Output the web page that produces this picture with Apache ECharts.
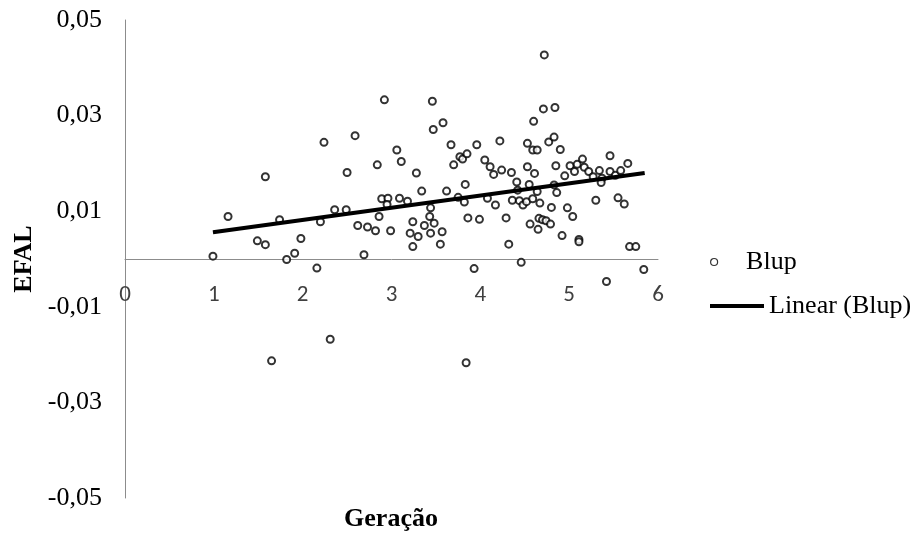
<!DOCTYPE html>
<html>
<head>
<meta charset="utf-8">
<title>EFAL x Geração</title>
<script src="https://cdn.jsdelivr.net/npm/echarts@6/dist/echarts.min.js"></script>
<style>
  html, body { margin: 0; padding: 0; background: #fff; }
  #myChart { width: 911px; height: 533px; }
</style>
</head>
<body>
<div id="myChart"></div>
<script>
// Blup por geração (x = geração, y = EFAL)
var geracao = [
  0.99, 1.16, 1.58, 1.74, 1.49, 1.58, 1.82,
  2.92, 3.46, 2.24, 2.59, 3.58, 3.47, 3.67, 3.06, 3.11, 2.84, 2.50, 3.28, 3.34,
  3.62, 3.70, 2.89, 2.96, 2.95, 3.09, 3.18, 2.36, 2.49, 3.44, 3.43, 2.86, 2.20,
  2.62, 2.73, 2.82, 2.99, 3.24, 3.37, 3.48, 3.21, 3.30, 3.44, 3.57, 3.55, 3.24,
  1.98, 1.91, 2.69, 2.16,
  4.72, 4.71, 4.84, 4.60, 4.22, 3.96, 4.53, 4.77, 4.83, 4.59, 4.64, 4.90, 3.77,
  3.80, 3.85, 4.05, 4.11, 4.15, 4.24, 4.35, 4.53, 4.61, 4.41, 4.55, 4.85, 4.83,
  4.86, 4.95, 5.01, 5.06, 5.09, 5.15, 5.17, 5.22, 5.27, 5.34, 5.37, 5.36, 5.46,
  5.46, 3.75, 3.83, 3.82, 4.08, 4.17, 4.36, 4.42, 4.44, 4.48, 4.52, 4.59, 4.64,
  4.67, 4.80, 4.98, 5.04, 5.30, 3.86, 3.99, 4.29, 4.56, 4.66, 4.70, 4.74, 4.79,
  4.65, 4.92, 5.11, 5.11, 4.32, 3.93, 4.46, 5.42,
  5.68, 5.75, 5.84, 2.31, 1.65, 3.84,
  5.52, 5.58, 5.55, 5.62, 5.66
];
var blup = [
  0.0006, 0.0089, 0.0172, 0.0082, 0.0038, 0.0030, -0.0001,
  0.0333, 0.0330, 0.0244, 0.0258, 0.0285, 0.0271, 0.0239, 0.0228, 0.0204, 0.0197, 0.0181, 0.0180, 0.0142,
  0.0142, 0.0197, 0.0126, 0.0127, 0.0114, 0.0127, 0.0121, 0.0103, 0.0103, 0.0107, 0.0089, 0.0089, 0.0078,
  0.0070, 0.0067, 0.0059, 0.0059, 0.0078, 0.0070, 0.0075, 0.0054, 0.0047, 0.0054, 0.0057, 0.0031, 0.0026,
  0.0043, 0.0012, 0.0009, -0.0019,
  0.0427, 0.0314, 0.0317, 0.0288, 0.0247, 0.0239, 0.0242, 0.0245, 0.0255, 0.0228, 0.0228, 0.0229, 0.0214,
  0.0209, 0.0220, 0.0207, 0.0193, 0.0177, 0.0186, 0.0181, 0.0193, 0.0179, 0.0161, 0.0156, 0.0195, 0.0155,
  0.0139, 0.0174, 0.0195, 0.0183, 0.0198, 0.0209, 0.0192, 0.0183, 0.0172, 0.0185, 0.0169, 0.0160, 0.0183,
  0.0216, 0.0129, 0.0156, 0.0119, 0.0127, 0.0113, 0.0123, 0.0144, 0.0122, 0.0113, 0.0120, 0.0126, 0.0141,
  0.0117, 0.0108, 0.0107, 0.0089, 0.0123, 0.0086, 0.0083, 0.0086, 0.0073, 0.0085, 0.0082, 0.0080, 0.0073,
  0.0062, 0.0049, 0.0041, 0.0036, 0.0031, -0.0020, -0.0007, -0.0047,
  0.0026, 0.0026, -0.0022, -0.0168, -0.0213, -0.0217,
  0.0175, 0.0185, 0.0128, 0.0115, 0.0200
];
// Linear (Blup) - extremos da linha de tendência
var tendX = [0.99, 5.85];
var tendY = [0.0056, 0.0180];
// rótulos dos eixos
var xTicks = [0, 1, 2, 3, 4, 5, 6];
var yTicks = [-0.05, -0.03, -0.01, 0.01, 0.03, 0.05];

var serif = "'Liberation Serif', 'Times New Roman', serif";

var pontos = geracao.map(function (x, i) { return [x, blup[i]]; });
var tendencia = tendX.map(function (x, i) { return [x, tendY[i]]; });

// mesma área para as duas grids (a segunda só desenha os rótulos de x)
var area = { left: 125, right: 253, top: 20, bottom: 35, containLabel: false, outerBoundsMode: 'none' };

var myChart = echarts.init(document.getElementById('myChart'));
myChart.setOption({
  animation: false,
  backgroundColor: '#fff',
  grid: [
    Object.assign({}, area),
    Object.assign({}, area)
  ],
  // títulos dos eixos
  graphic: [
    {
      type: 'text',
      x: 24,
      y: 259,
      rotation: Math.PI / 2,
      style: {
        text: 'EFAL',
        align: 'center',
        verticalAlign: 'middle',
        font: 'bold 26px ' + serif,
        fill: '#000'
      }
    },
    {
      type: 'text',
      x: 391,
      y: 519,
      style: {
        text: 'Geração',
        align: 'center',
        verticalAlign: 'middle',
        font: 'bold 26px ' + serif,
        fill: '#000'
      }
    }
  ],
  legend: [
    {
      data: [{ name: 'Blup', icon: 'circle' }],
      orient: 'vertical',
      left: 705,
      top: 244,
      itemWidth: 54,
      itemHeight: 7,
      itemStyle: { color: '#fff', borderColor: '#000', borderWidth: 1.2 },
      textStyle: { fontFamily: serif, fontSize: 26, color: '#000' }
    },
    {
      data: [{ name: 'Linear (Blup)', icon: 'rect' }],
      orient: 'vertical',
      left: 705,
      top: 288,
      itemWidth: 54,
      itemHeight: 4,
      itemStyle: { color: '#000' },
      textStyle: { fontFamily: serif, fontSize: 26, color: '#000' }
    }
  ],
  xAxis: [
    {
      // eixo x cruza o eixo y em 0 (meio do gráfico)
      gridIndex: 0,
      type: 'value',
      min: 0,
      max: 6,
      interval: 1,
      position: 'bottom',
      offset: -239,
      axisLine: { show: true, onZero: false, lineStyle: { color: '#8c8c8c', width: 1 } },
      axisTick: { show: false },
      splitLine: { show: false },
      axisLabel: { show: false }
    },
    {
      // rótulos 0..6 logo abaixo da linha do zero
      gridIndex: 1,
      type: 'value',
      min: 0,
      max: 6,
      interval: 1,
      position: 'bottom',
      offset: -239,
      axisLine: { show: false, onZero: false },
      axisTick: { show: false },
      splitLine: { show: false },
      axisLabel: {
        customValues: xTicks,
        hideOverlap: false,
        showMinLabel: true,
        showMaxLabel: true,
        margin: 25,
        fontFamily: "Carlito, 'Open Sans', sans-serif",
        fontSize: 23,
        color: '#404040'
      }
    }
  ],
  yAxis: [
    {
      gridIndex: 0,
      type: 'value',
      min: -0.05,
      max: 0.05,
      interval: 0.01,
      axisLine: { show: true, onZero: false, lineStyle: { color: '#8c8c8c', width: 1 } },
      axisTick: { show: false },
      splitLine: { show: false },
      axisLabel: {
        customValues: yTicks,
        hideOverlap: false,
        margin: 23,
        fontFamily: serif,
        fontSize: 26,
        color: '#000',
        formatter: function (v) {
          return v.toFixed(2).replace('.', ',');
        }
      }
    },
    {
      gridIndex: 1,
      type: 'value',
      min: -0.05,
      max: 0.05,
      show: false
    }
  ],
  series: [
    {
      name: 'Blup',
      type: 'scatter',
      xAxisIndex: 0,
      yAxisIndex: 0,
      data: pontos,
      symbol: 'circle',
      symbolSize: 7,
      itemStyle: { color: '#fff', borderColor: '#000', borderWidth: 2 }
    },
    {
      name: 'Linear (Blup)',
      type: 'line',
      xAxisIndex: 0,
      yAxisIndex: 0,
      data: tendencia,
      symbol: 'none',
      z: 3,
      lineStyle: { color: '#000', width: 4 }
    }
  ]
});
</script>
</body>
</html>
